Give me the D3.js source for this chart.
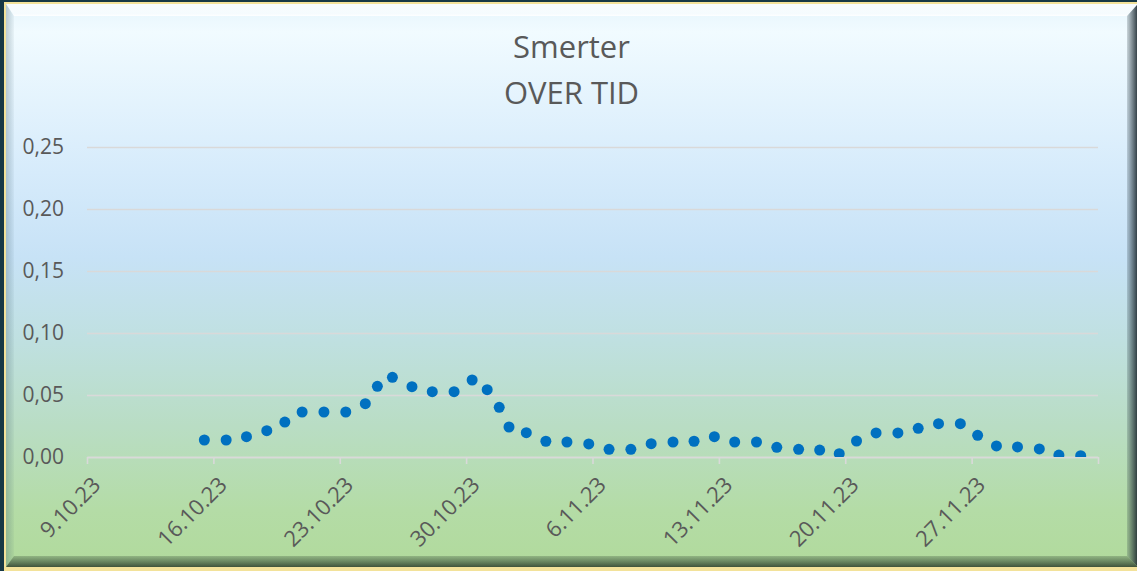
<!DOCTYPE html>
<html>
<head>
<meta charset="utf-8">
<script src="https://cdn.jsdelivr.net/npm/d3@7"></script>
<style>
    html, body { margin: 0; padding: 0; background: #173845; }
    svg { display: block; }
    text { font-family: 'Open Sans', 'Noto Sans', sans-serif; fill: #595959; }
</style>
</head>
<body>
<svg id="chart"></svg>
<script>
// readings (date + time) and pain score
const timestamps = [
    '2023-10-15 12:00', '2023-10-16 17:00', '2023-10-17 20:00', '2023-10-18 23:00',
    '2023-10-19 23:00', '2023-10-20 22:00', '2023-10-22 03:00', '2023-10-23 08:00',
    '2023-10-24 10:00', '2023-10-25 02:00', '2023-10-25 22:00', '2023-10-27 00:00',
    '2023-10-28 03:00', '2023-10-29 08:00', '2023-10-30 08:00', '2023-10-31 04:00',
    '2023-10-31 20:00', '2023-11-01 09:00', '2023-11-02 08:00', '2023-11-03 10:00',
    '2023-11-04 14:00', '2023-11-05 19:00', '2023-11-06 22:00', '2023-11-08 03:00',
    '2023-11-09 06:00', '2023-11-10 11:00', '2023-11-11 15:00', '2023-11-12 18:00',
    '2023-11-13 21:00', '2023-11-15 02:00', '2023-11-16 05:00', '2023-11-17 10:00',
    '2023-11-18 14:00', '2023-11-19 16:00', '2023-11-20 15:00', '2023-11-21 17:00',
    '2023-11-22 22:00', '2023-11-24 01:00', '2023-11-25 04:00', '2023-11-26 09:00',
    '2023-11-27 08:00', '2023-11-28 09:00', '2023-11-29 13:00', '2023-11-30 18:00',
    '2023-12-01 20:00', '2023-12-03 01:00'
];
const painValues = [
    0.0137, 0.0137, 0.0164, 0.0212, 0.0282, 0.0363, 0.0363, 0.0363,
    0.0430, 0.0570, 0.0643, 0.0567, 0.0527, 0.0527, 0.0621, 0.0543,
    0.0401, 0.0242, 0.0196, 0.0127, 0.0121, 0.0105, 0.0062, 0.0062,
    0.0107, 0.0121, 0.0127, 0.0164, 0.0121, 0.0121, 0.0078, 0.0062,
    0.0056, 0.0027, 0.0129, 0.0194, 0.0194, 0.0231, 0.0269, 0.0269,
    0.0175, 0.0089, 0.0081, 0.0065, 0.0016, 0.0010
];
const xTickDates = [
    '2023-10-09', '2023-10-16', '2023-10-23', '2023-10-30',
    '2023-11-06', '2023-11-13', '2023-11-20', '2023-11-27', '2023-12-04'
];
const yTicks = [0, 0.05, 0.10, 0.15, 0.20, 0.25];
const titleLines = ['Smerter', 'OVER TID'];

const width = 1137;
const height = 571;
const margin = {top: 147, right: 39, bottom: 114, left: 87};
const plotWidth = width - margin.left - margin.right;
const plotHeight = height - margin.top - margin.bottom;

const parseTime = d3.utcParse('%Y-%m-%d %H:%M');
const parseDay = d3.utcParse('%Y-%m-%d');
const noLocale = d3.formatLocale({decimal: ',', thousands: ' ', grouping: [3], currency: ['', ' kr']});
const fmtY = noLocale.format('.2f');
const fmtX = d3.utcFormat('%-d.%-m.%y');

const points = timestamps.map((t, i) => ({date: parseTime(t), value: painValues[i]}));
const tickDates = xTickDates.map(parseDay);

const svg = d3.select('#chart')
    .attr('width', width)
    .attr('height', height);

const defs = svg.append('defs');

// --- frame and bevelled background ---
const bg = defs.append('linearGradient')
    .attr('id', 'bg')
    .attr('x1', 0).attr('y1', 0).attr('x2', 0).attr('y2', 1);
[
    [0, '#e6f5fc'], [0.05, '#f1fbff'], [0.3, '#d6ebfb'], [0.45, '#c7e2f6'],
    [0.6, '#bfe0e0'], [0.75, '#b9ddc4'], [0.9, '#b4dca6'], [1, '#b1da9c']
].forEach(([o, c]) => bg.append('stop').attr('offset', o).attr('stop-color', c));

const addGrad = (id, x2, y2, stops) => {
    const g = defs.append('linearGradient')
        .attr('id', id)
        .attr('x1', 0).attr('y1', 0).attr('x2', x2).attr('y2', y2);
    stops.forEach(([o, c, a]) => g.append('stop')
        .attr('offset', o).attr('stop-color', c).attr('stop-opacity', a));
};
addGrad('bevTop', 0, 1, [[0, '#ffffff', 0.75], [0.8, '#ffffff', 0.55], [1, '#ffffff', 0.95]]);
addGrad('bevLeft', 1, 0, [[0, '#40606e', 0.3], [1, '#40606e', 0.05]]);
addGrad('bevRight', 1, 0, [[0, '#2c3c44', 0.2], [1, '#1e2a30', 0.95]]);
addGrad('bevBottom', 0, 1, [[0, '#2e4230', 0.25], [0.5, '#2e4230', 0.55], [1, '#233223', 0.8]]);

svg.append('rect')
    .attr('x', 4).attr('y', 2)
    .attr('width', width).attr('height', height)
    .attr('fill', '#f3e29a');

const L = 6, T = 4, R = width + 1, B = 567;
const bl = 8, bt = 12, br = 11, bb = 11;

svg.append('rect')
    .attr('x', L).attr('y', T)
    .attr('width', R - L).attr('height', B - T)
    .attr('fill', 'url(#bg)');

const bevel = [
    ['bevTop', [[L, T], [R, T], [R - br, T + bt], [L + bl, T + bt]]],
    ['bevLeft', [[L, T], [L + bl, T + bt], [L + bl, B - bb], [L, B]]],
    ['bevRight', [[R - br, T + bt], [R, T], [R, B], [R - br, B - bb]]],
    ['bevBottom', [[L + bl, B - bb], [R - br, B - bb], [R, B], [L, B]]]
];
svg.selectAll('.bevel')
    .data(bevel)
    .enter()
        .append('polygon')
            .attr('class', 'bevel')
            .attr('points', (d) => d[1].map((p) => p.join(',')).join(' '))
            .attr('fill', (d) => `url(#${d[0]})`);

// --- title ---
svg.append('text')
    .attr('text-anchor', 'middle')
    .attr('font-size', 31)
    .selectAll('tspan')
    .data(titleLines)
    .enter()
        .append('tspan')
            .attr('x', 571.5)
            .attr('y', (d, i) => 58 + i * 45.5)
            .text((d) => d);

// --- scales ---
const x = d3.scaleUtc()
    .domain([tickDates[0], tickDates[tickDates.length - 1]])
    .range([0, plotWidth]);
const y = d3.scaleLinear()
    .domain([0, 0.25])
    .range([plotHeight, 0]);

const plot = svg.append('g')
    .attr('transform', `translate(${margin.left}, ${margin.top})`);

// gridlines + y labels
const yAxis = plot.append('g')
    .call(d3.axisLeft(y)
        .tickValues(yTicks)
        .tickSize(-plotWidth)
        .tickPadding(23)
        .tickFormat(fmtY));
yAxis.select('.domain').remove();
yAxis.selectAll('line')
    .attr('stroke', '#d9d9d9')
    .attr('stroke-width', 1.5);
yAxis.selectAll('text')
    .attr('font-size', 21)
    .attr('fill', '#595959');

// x axis
const lastTick = tickDates[tickDates.length - 1];
const xAxis = plot.append('g')
    .attr('transform', `translate(0, ${plotHeight})`)
    .call(d3.axisBottom(x)
        .tickValues(tickDates)
        .tickSizeInner(7)
        .tickSizeOuter(0)
        .tickFormat((d) => (+d === +lastTick ? '' : fmtX(d))));
xAxis.select('.domain')
    .attr('stroke', '#d9d9d9')
    .attr('stroke-width', 1.6);
xAxis.selectAll('line')
    .attr('stroke', '#d9d9d9')
    .attr('stroke-width', 1.6);
xAxis.selectAll('text')
    .attr('font-size', 22)
    .attr('fill', '#595959')
    .attr('text-anchor', 'end')
    .attr('x', null).attr('y', null).attr('dy', '0.35em')
    .attr('transform', 'translate(9, 24) rotate(-45)');

// markers, clipped to the plot area like the original
defs.append('clipPath')
    .attr('id', 'plotClip')
    .append('rect')
        .attr('x', -10).attr('y', -10)
        .attr('width', plotWidth + 20)
        .attr('height', plotHeight + 10);

plot.append('g')
    .attr('clip-path', 'url(#plotClip)')
    .selectAll('circle')
    .data(points)
    .enter()
        .append('circle')
            .attr('cx', (d) => x(d.date))
            .attr('cy', (d) => y(d.value))
            .attr('r', 5.5)
            .attr('fill', '#0070c0');
</script>
</body>
</html>
